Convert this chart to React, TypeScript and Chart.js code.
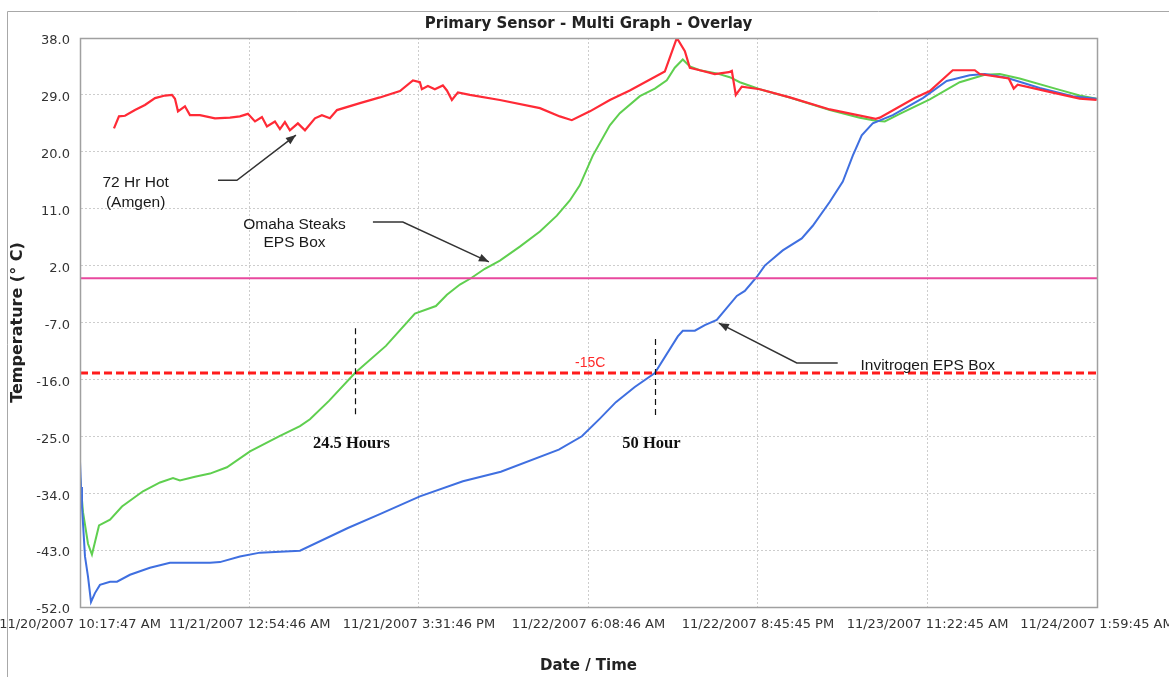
import React, { useEffect, useRef } from "react";
import { Chart, registerables } from "chart.js";

Chart.register(...registerables);

const TITLE = "Primary Sensor - Multi Graph - Overlay";
const X_TITLE = "Date / Time";
const Y_TITLE = "Temperature (° C)";

// x tick labels (time stamps); x values are hours since the first stamp
const xTickLabels = [
  "11/20/2007 10:17:47 AM",
  "11/21/2007 12:54:46 AM",
  "11/21/2007 3:31:46 PM",
  "11/22/2007 6:08:46 AM",
  "11/22/2007 8:45:45 PM",
  "11/23/2007 11:22:45 AM",
  "11/24/2007 1:59:45 AM",
];
const yTickValues = [38, 29, 20, 11, 2, -7, -16, -25, -34, -43, -52];

// 72 Hr Hot (Amgen) - red
const hotHours = [2.93, 3.36, 3.88, 4.74, 5.6, 6.47, 7.33, 7.93, 8.19, 8.45, 9.05, 9.48, 10.34, 11.64, 12.93, 13.79, 14.48, 15.09, 15.69, 16.12, 16.81, 17.24, 17.67, 18.1, 18.79, 19.4, 20.26, 20.86, 21.55, 22.16, 24.14, 25.86, 27.59, 28.71, 29.31, 29.48, 30.0, 30.6, 31.29, 31.64, 32.07, 32.59, 33.62, 36.21, 39.66, 41.38, 42.41, 43.97, 45.69, 47.41, 50.43, 51.47, 52.16, 52.59, 53.45, 54.74, 55.95, 56.21, 56.55, 57.07, 58.62, 61.21, 64.66, 68.62, 68.97, 71.98, 73.28, 75.26, 77.16, 77.59, 80.09, 80.52, 80.86, 83.79, 86.21, 87.67];
const hotTemps = [23.7, 25.6, 25.7, 26.6, 27.4, 28.5, 28.9, 29.0, 28.4, 26.4, 27.2, 25.8, 25.8, 25.3, 25.4, 25.6, 26.0, 24.8, 25.5, 24.0, 24.8, 23.6, 24.7, 23.4, 24.5, 23.4, 25.3, 25.8, 25.3, 26.6, 27.7, 28.6, 29.6, 31.3, 31.0, 29.9, 30.4, 29.9, 30.5, 29.7, 28.2, 29.4, 29.0, 28.2, 26.9, 25.6, 25.0, 26.4, 28.2, 29.7, 32.7, 38.0, 35.9, 33.3, 32.9, 32.3, 32.6, 32.8, 29.0, 30.3, 29.9, 28.6, 26.7, 25.2, 25.4, 28.5, 29.6, 32.9, 32.9, 32.3, 31.6, 30.0, 30.6, 29.4, 28.4, 28.2];

// Omaha Steaks EPS Box - green
const omahaHours = [0, 0.26, 0.69, 1.03, 1.64, 2.59, 3.62, 5.43, 6.9, 8.02, 8.62, 9.91, 11.21, 12.67, 14.66, 17.16, 18.97, 19.83, 21.47, 23.71, 26.38, 28.88, 30.69, 31.64, 32.76, 33.71, 34.91, 36.21, 37.93, 39.66, 41.12, 42.24, 43.1, 44.22, 45.69, 46.55, 48.28, 49.57, 50.6, 51.29, 51.98, 52.59, 53.45, 54.91, 56.03, 56.9, 58.62, 61.2, 64.66, 67.24, 68.62, 69.4, 70.69, 73.28, 75.86, 78.02, 79.31, 81.03, 84.48, 86.2, 87.67];
const omahaTemps = [-31.4, -37, -42, -43.7, -39.1, -38.2, -36.1, -33.7, -32.3, -31.6, -32.0, -31.4, -30.9, -29.9, -27.4, -25.0, -23.4, -22.3, -19.4, -15.0, -10.7, -5.6, -4.4, -2.6, -1.0, 0.0, 1.5, 2.8, 5.0, 7.4, 9.9, 12.3, 14.7, 19.4, 24.2, 26.1, 28.8, 30.0, 31.3, 33.3, 34.6, 33.5, 32.9, 32.4, 31.8, 31.0, 29.9, 28.6, 26.6, 25.4, 24.9, 24.8, 26.0, 28.3, 31.0, 32.2, 32.3, 31.6, 29.8, 28.9, 28.4];

// Invitrogen EPS Box - blue
const invitrogenHours = [0, 0.09, 0.17, 0.43, 0.69, 0.95, 1.29, 1.72, 2.59, 3.19, 4.31, 6.03, 7.76, 9.48, 11.21, 12.07, 13.79, 15.52, 18.97, 23.1, 25.86, 29.31, 33.02, 36.29, 41.29, 43.28, 44.83, 46.21, 47.84, 49.57, 51.55, 51.98, 53.02, 53.88, 54.91, 56.64, 57.33, 58.36, 59.05, 60.6, 62.24, 63.19, 64.66, 65.78, 66.64, 67.41, 68.36, 70.09, 72.68, 74.74, 76.72, 78.02, 79.91, 82.76, 85.6, 87.67];
const invitrogenTemps = [-29, -33, -36.1, -44, -47.2, -51.2, -49.8, -48.5, -48.0, -48.0, -46.9, -45.8, -45.0, -45.0, -45.0, -44.9, -44.0, -43.4, -43.1, -39.5, -37.3, -34.5, -32.1, -30.6, -27.1, -25.0, -22.2, -19.6, -17.2, -15.0, -9.2, -8.3, -8.3, -7.4, -6.6, -2.8, -2.0, 0.2, 2.0, 4.4, 6.3, 8.3, 12.1, 15.3, 19.4, 22.6, 24.5, 25.8, 28.5, 31.2, 32.1, 32.3, 31.7, 30.1, 28.8, 28.4];

// reference thresholds (°C)
const freezeLevel = 0;
const limitLevel = -15;
const limitLabel = "-15C";

// hours at which each box crosses the -15 °C limit
const crossingHours = [23.71, 49.57];
const crossingLabels = ["24.5 Hours", "50 Hour"];

function parseStamp(s: string): number {
  const m = s.match(/(\d+)\/(\d+)\/(\d+) (\d+):(\d+):(\d+) (AM|PM)/)!;
  let h = Number(m[4]) % 12;
  if (m[7] === "PM") h += 12;
  return Date.UTC(Number(m[3]), Number(m[1]) - 1, Number(m[2]), h, Number(m[5]), Number(m[6]));
}
const t0 = parseStamp(xTickLabels[0]);
const xTickHours = xTickLabels.map((l) => (parseStamp(l) - t0) / 3600000);

const zip = (xs: number[], ys: number[]) => xs.map((x, i) => ({ x, y: ys[i] }));

// annotation placement in data units (hours, °C)
const noteTexts = [
  { lines: ["72 Hr Hot", "(Amgen)"], x: 4.8, y: [15.05, 11.9] },
  { lines: ["Omaha Steaks", "EPS Box"], x: 18.5, y: [8.4, 5.55] },
  { lines: ["Invitrogen EPS Box"], x: 73.1, y: [-13.9] },
];
const noteArrows = [
  [[11.9, 15.5], [13.53, 15.5], [18.62, 22.65]],
  [[25.26, 8.9], [27.84, 8.9], [35.26, 2.6]],
  [[65.34, -13.4], [61.81, -13.4], [55.09, -7.1]],
];
const markerSpans = [[-7.9, -21.7], [-9.6, -21.7]];

const SANS = "'Liberation Sans', Arial, sans-serif";
const UI = "'DejaVu Sans', Verdana, sans-serif";

const framePlugin = {
  id: "frame",
  beforeDraw(chart: any) {
    const { ctx, width, height } = chart;
    ctx.save();
    ctx.fillStyle = "#ffffff";
    ctx.fillRect(0, 0, width, height);
    ctx.strokeStyle = "#a8a8a8";
    ctx.lineWidth = 1;
    ctx.beginPath();
    ctx.moveTo(7.5, height);
    ctx.lineTo(7.5, 11.5);
    ctx.lineTo(width, 11.5);
    ctx.stroke();
    ctx.restore();
  },
  afterDraw(chart: any) {
    const { ctx, chartArea: a } = chart;
    ctx.save();
    ctx.strokeStyle = "#a0a0a0";
    ctx.lineWidth = 1.5;
    ctx.strokeRect(Math.round(a.left) + 0.5, Math.round(a.top) + 0.5, Math.round(a.right - a.left), Math.round(a.bottom - a.top));
    ctx.restore();
  },
};

function drawArrow(ctx: CanvasRenderingContext2D, pts: number[][]) {
  ctx.beginPath();
  ctx.moveTo(pts[0][0], pts[0][1]);
  for (let i = 1; i < pts.length; i++) ctx.lineTo(pts[i][0], pts[i][1]);
  ctx.stroke();
  const [px, py] = pts[pts.length - 2];
  const [tx, ty] = pts[pts.length - 1];
  const ang = Math.atan2(ty - py, tx - px);
  const len = 10;
  const w = 4;
  ctx.beginPath();
  ctx.moveTo(tx, ty);
  ctx.lineTo(tx - len * Math.cos(ang) + w * Math.sin(ang), ty - len * Math.sin(ang) - w * Math.cos(ang));
  ctx.lineTo(tx - len * Math.cos(ang) - w * Math.sin(ang), ty - len * Math.sin(ang) + w * Math.cos(ang));
  ctx.closePath();
  ctx.fill();
}

const annotationPlugin = {
  id: "annotations",
  afterDatasetsDraw(chart: any) {
    const { ctx, chartArea: a, scales } = chart;
    const xs = scales.x;
    const ys = scales.y;
    ctx.save();
    // 0 °C line
    const yf = ys.getPixelForValue(freezeLevel);
    ctx.strokeStyle = "#e8489e";
    ctx.lineWidth = 2;
    ctx.beginPath();
    ctx.moveTo(a.left, yf);
    ctx.lineTo(a.right, yf);
    ctx.stroke();
    // -15 °C limit line
    const yl = ys.getPixelForValue(limitLevel);
    ctx.strokeStyle = "#ff1c1c";
    ctx.lineWidth = 3;
    ctx.setLineDash([8, 4]);
    ctx.beginPath();
    ctx.moveTo(a.left, yl);
    ctx.lineTo(a.right, yl);
    ctx.stroke();
    ctx.setLineDash([]);
    ctx.fillStyle = "#ff2a2a";
    ctx.font = `14px ${SANS}`;
    ctx.textAlign = "center";
    ctx.textBaseline = "middle";
    ctx.fillText(limitLabel, xs.getPixelForValue(44), ys.getPixelForValue(-13.5));

    // crossing markers
    ctx.strokeStyle = "#111";
    ctx.lineWidth = 1.2;
    ctx.setLineDash([6, 4]);
    crossingHours.forEach((h, i) => {
      const px = Math.round(xs.getPixelForValue(h)) + 0.5;
      ctx.beginPath();
      ctx.moveTo(px, ys.getPixelForValue(markerSpans[i][0]));
      ctx.lineTo(px, ys.getPixelForValue(markerSpans[i][1]));
      ctx.stroke();
    });
    ctx.setLineDash([]);
    ctx.fillStyle = "#111";
    ctx.font = `bold 16.5px 'Liberation Serif', 'Times New Roman', serif`;
    crossingLabels.forEach((t, i) => {
      ctx.fillText(t, xs.getPixelForValue(crossingHours[i] - 0.3), ys.getPixelForValue(-26.1));
    });

    // notes and arrows
    ctx.font = `15.5px ${SANS}`;
    ctx.fillStyle = "#1a1a1a";
    noteTexts.forEach((n) => {
      n.lines.forEach((line, i) => {
        ctx.fillText(line, xs.getPixelForValue(n.x), ys.getPixelForValue(n.y[i]));
      });
    });
    ctx.strokeStyle = "#333";
    ctx.fillStyle = "#333";
    ctx.lineWidth = 1.5;
    noteArrows.forEach((arr) => {
      drawArrow(ctx, arr.map(([h, t]) => [xs.getPixelForValue(h), ys.getPixelForValue(t)]));
    });
    ctx.restore();
  },
};

export default function App() {
  const ref = useRef<HTMLCanvasElement | null>(null);

  useEffect(() => {
    if (!ref.current) return;
    const tickFont = { family: UI, size: 13 };
    const chart = new Chart(ref.current, {
      type: "line",
      data: {
        datasets: [
          {
            label: "72 Hr Hot (Amgen)",
            data: zip(hotHours, hotTemps),
            borderColor: "#ff2a36",
            borderWidth: 2.2,
            pointRadius: 0,
            tension: 0,
          },
          {
            label: "Invitrogen EPS Box",
            data: zip(invitrogenHours, invitrogenTemps),
            borderColor: "#3f6fe0",
            borderWidth: 2,
            pointRadius: 0,
            tension: 0,
          },
          {
            label: "Omaha Steaks EPS Box",
            data: zip(omahaHours, omahaTemps),
            borderColor: "#5fcf4f",
            borderWidth: 2,
            pointRadius: 0,
            tension: 0,
          },
        ],
      },
      options: {
        animation: false,
        responsive: false,
        devicePixelRatio: 1,
        layout: { padding: { left: 0, right: 72, top: 0, bottom: 0 } },
        plugins: {
          legend: { display: false },
          tooltip: { enabled: false },
          title: {
            display: true,
            fullSize: false,
            text: TITLE,
            color: "#222",
            font: { family: UI, size: 15, weight: "bold" },
            padding: { top: 15, bottom: 5 },
          },
        },
        scales: {
          x: {
            type: "linear",
            min: xTickHours[0],
            max: xTickHours[xTickHours.length - 1],
            afterBuildTicks: (s: any) => {
              s.ticks = xTickHours.map((v) => ({ value: v }));
            },
            afterFit: (s: any) => {
              s.height = 70;
              s.paddingLeft = 0;
              s.paddingRight = 0;
            },
            ticks: {
              autoSkip: false,
              maxRotation: 0,
              minRotation: 0,
              padding: 10,
              color: "#333",
              font: tickFont,
              callback: (_v: any, i: number) => xTickLabels[i],
            },
            grid: { color: "#cdcdcd", lineWidth: 1, drawTicks: false },
            border: { display: true, color: "#a0a0a0", dash: [2, 2] },
            title: {
              display: true,
              text: X_TITLE,
              color: "#222",
              font: { family: UI, size: 15, weight: "bold" },
              padding: { top: 0, bottom: 2 },
            },
          },
          y: {
            type: "linear",
            min: -52,
            max: 38,
            afterBuildTicks: (s: any) => {
              s.ticks = yTickValues.map((v) => ({ value: v }));
            },
            afterFit: (s: any) => {
              s.width = 80;
              s.paddingTop = 0;
              s.paddingBottom = 0;
            },
            ticks: {
              padding: 10,
              labelOffset: 3,
              color: "#333",
              font: tickFont,
              callback: (v: any) => Number(v).toFixed(1),
            },
            grid: { color: "#cdcdcd", lineWidth: 1, drawTicks: false },
            border: { display: true, color: "#a0a0a0", dash: [2, 2] },
            title: {
              display: true,
              text: Y_TITLE,
              color: "#222",
              font: { family: UI, size: 16, weight: "bold" },
              padding: { top: 8, bottom: 0 },
            },
          },
        },
      },
      plugins: [framePlugin, annotationPlugin],
    } as any);
    return () => chart.destroy();
  }, []);

  return (
    <div style={{ position: "fixed", left: 0, top: 0, width: 1169, height: 677, background: "#fff" }}>
      <canvas ref={ref} width={1169} height={677} style={{ width: 1169, height: 677, display: "block" }} />
    </div>
  );
}
